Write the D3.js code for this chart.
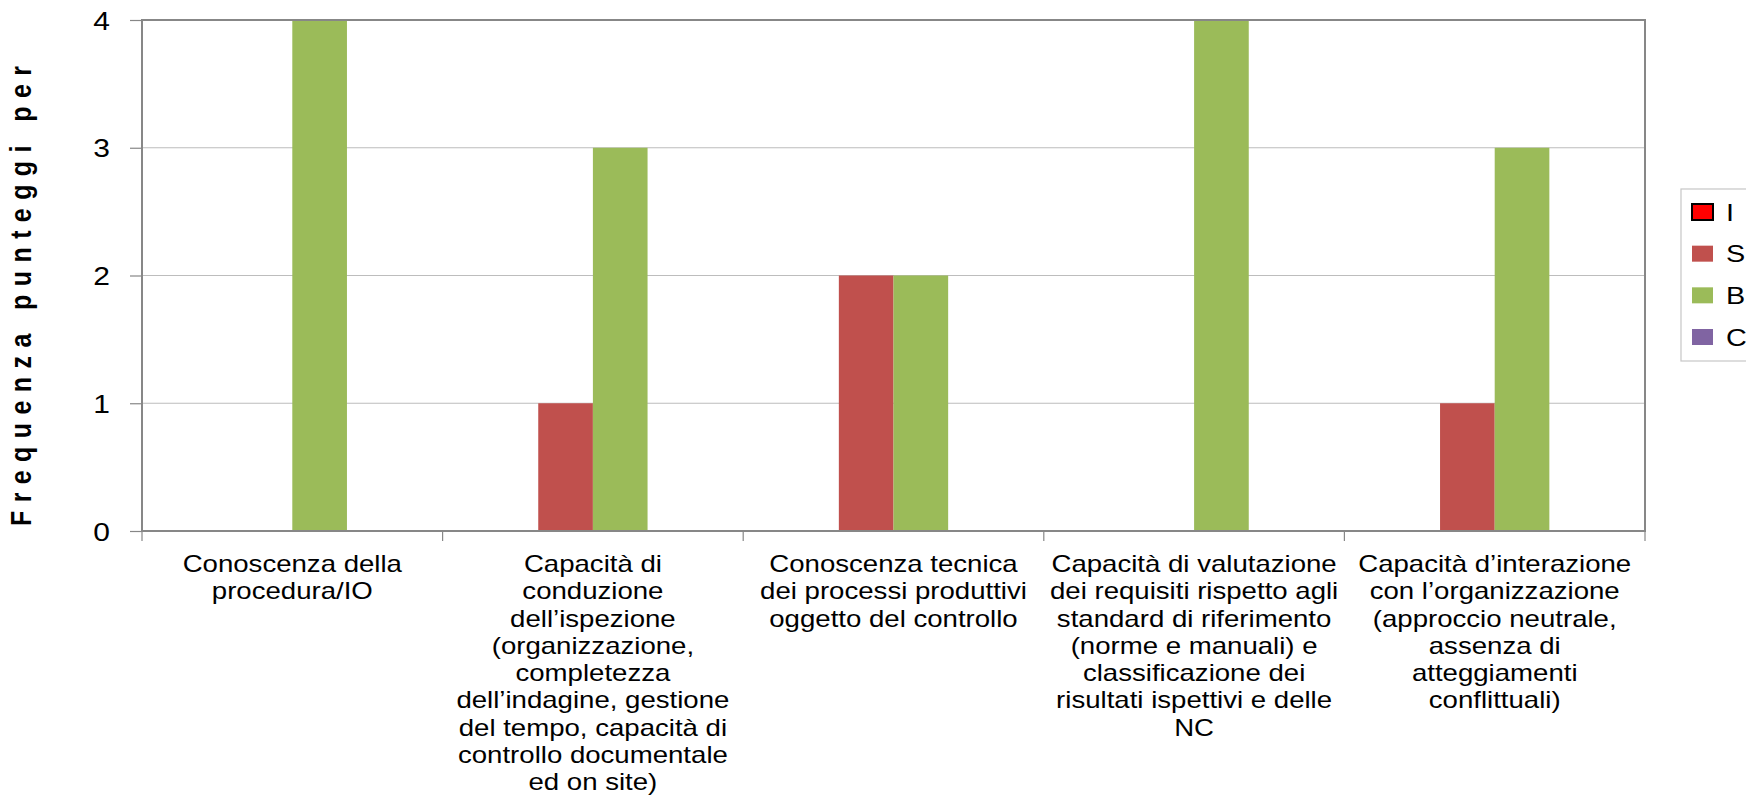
<!DOCTYPE html>
<html>
<head>
<meta charset="utf-8">
<script src="https://cdn.jsdelivr.net/npm/d3@7"></script>
<style>
  html, body { margin: 0; padding: 0; background: #ffffff; }
  svg { display: block; }
  text { font-family: "Liberation Sans", Arial, sans-serif; fill: #000; }
</style>
</head>
<body>
<svg id="chart" width="1746" height="799"></svg>
<script>
// ---- data ----
const categories = [
  ["Conoscenza della", "procedura/IO"],
  ["Capacità di", "conduzione", "dell’ispezione", "(organizzazione,", "completezza", "dell’indagine, gestione", "del tempo, capacità di", "controllo documentale", "ed on site)"],
  ["Conoscenza tecnica", "dei processi produttivi", "oggetto del controllo"],
  ["Capacità di valutazione", "dei requisiti rispetto agli", "standard di riferimento", "(norme e manuali) e", "classificazione dei", "risultati ispettivi e delle", "NC"],
  ["Capacità d’interazione", "con l’organizzazione", "(approccio neutrale,", "assenza di", "atteggiamenti", "conflittuali)"]
];
const seriesNames = ["I", "S", "B", "C"];
const valuesI = [0, 0, 0, 0, 0];
const valuesS = [0, 1, 2, 0, 1];
const valuesB = [4, 3, 2, 4, 3];
const valuesC = [0, 0, 0, 0, 0];
const seriesColors = ["#FF0000", "#C0504D", "#9BBB59", "#8064A2"];
const yTicks = [0, 1, 2, 3, 4];
const yTitle = "Frequenza punteggi per";

// ---- layout ----
const svg = d3.select("#chart");
const plot = { left: 142, right: 1645, top: 20, bottom: 531 };
const SX = 1.2; // horizontal stretch of the original text

const seriesValues = [valuesI, valuesS, valuesB, valuesC];
const catIdx = categories.map((d, i) => i);

const x0 = d3.scaleBand().domain(catIdx).range([plot.left, plot.right]).padding(0);
const x1 = d3.scaleBand().domain(seriesNames).range([0, x0.bandwidth()])
  .paddingInner(0).paddingOuter(0.75);
const y = d3.scaleLinear().domain([0, 4]).range([plot.bottom, plot.top]);

// gridlines
svg.append("g")
  .selectAll("line")
  .data(yTicks.filter(t => t > 0 && t < 4))
  .join("line")
  .attr("x1", plot.left).attr("x2", plot.right)
  .attr("y1", d => y(d)).attr("y2", d => y(d))
  .attr("stroke", "#bdbdbd").attr("stroke-width", 1.2);

// bars
const barData = [];
catIdx.forEach(ci => {
  seriesNames.forEach((s, si) => {
    barData.push({ ci, s, v: seriesValues[si][ci], color: seriesColors[si] });
  });
});
svg.append("g")
  .selectAll("rect")
  .data(barData.filter(d => d.v > 0))
  .join("rect")
  .attr("x", d => x0(d.ci) + x1(d.s))
  .attr("width", x1.bandwidth())
  .attr("y", d => y(d.v))
  .attr("height", d => y(0) - y(d.v))
  .attr("fill", d => d.color);

// plot border
svg.append("rect")
  .attr("x", plot.left).attr("y", plot.top)
  .attr("width", plot.right - plot.left).attr("height", plot.bottom - plot.top)
  .attr("fill", "none").attr("stroke", "#878787").attr("stroke-width", 2);

// y axis ticks
const yAxis = d3.axisLeft(y).tickValues(yTicks).tickSize(12).tickPadding(0).tickFormat(d3.format("d"));
const gy = svg.append("g").attr("transform", `translate(${plot.left},0)`).call(yAxis);
gy.select(".domain").remove();
gy.selectAll(".tick line").attr("stroke", "#878787").attr("stroke-width", 1.2);
gy.selectAll(".tick text").remove();
gy.selectAll(".tick").append("text")
  .attr("transform", `translate(-32,0) scale(${SX},1)`)
  .attr("text-anchor", "end")
  .attr("dy", "0.36em")
  .attr("font-size", 25)
  .attr("fill", "#000")
  .text(d => d);

// x axis ticks at category boundaries
const boundaries = catIdx.map(i => x0(i)).concat([plot.right]);
svg.append("g")
  .selectAll("line")
  .data(boundaries)
  .join("line")
  .attr("x1", d => d).attr("x2", d => d)
  .attr("y1", plot.bottom).attr("y2", plot.bottom + 10)
  .attr("stroke", "#878787").attr("stroke-width", 1.2);

// x labels
const lineH = 27.3;
const gl = svg.append("g");
categories.forEach((lines, ci) => {
  const cx = x0(ci) + x0.bandwidth() / 2;
  const g = gl.append("g").attr("transform", `translate(${cx},572) scale(${SX},1)`);
  g.selectAll("text")
    .data(lines)
    .join("text")
    .attr("x", 0)
    .attr("y", (d, i) => i * lineH)
    .attr("text-anchor", "middle")
    .attr("font-size", 23)
    .text(d => d);
});

// y title
svg.append("text")
  .attr("transform", `translate(31,526) scale(${SX},1) rotate(-90)`)
  .attr("text-anchor", "start")
  .attr("font-size", 25)
  .attr("font-weight", "bold")
  .attr("textLength", 460)
  .attr("lengthAdjust", "spacing")
  .text(yTitle);

// legend
const leg = { left: 1681, top: 189, bottom: 361 };
svg.append("rect")
  .attr("x", leg.left).attr("y", leg.top)
  .attr("width", 1746 - leg.left + 10).attr("height", leg.bottom - leg.top)
  .attr("fill", "#fff").attr("stroke", "#c6c6c6").attr("stroke-width", 1.2);
const legY = d3.scalePoint().domain(seriesNames).range([212, 337]);
const lg = svg.append("g");
seriesNames.forEach((s, si) => {
  const cy = legY(s);
  lg.append("rect")
    .attr("x", 1692).attr("y", cy - 8)
    .attr("width", 21).attr("height", 16)
    .attr("fill", seriesColors[si])
    .attr("stroke", si === 0 ? "#000" : "none")
    .attr("stroke-width", si === 0 ? 2 : 0);
  lg.append("text")
    .attr("transform", `translate(1726,${cy}) scale(${SX},1)`)
    .attr("dy", "0.36em")
    .attr("font-size", 24)
    .text(s);
});
</script>
</body>
</html>
